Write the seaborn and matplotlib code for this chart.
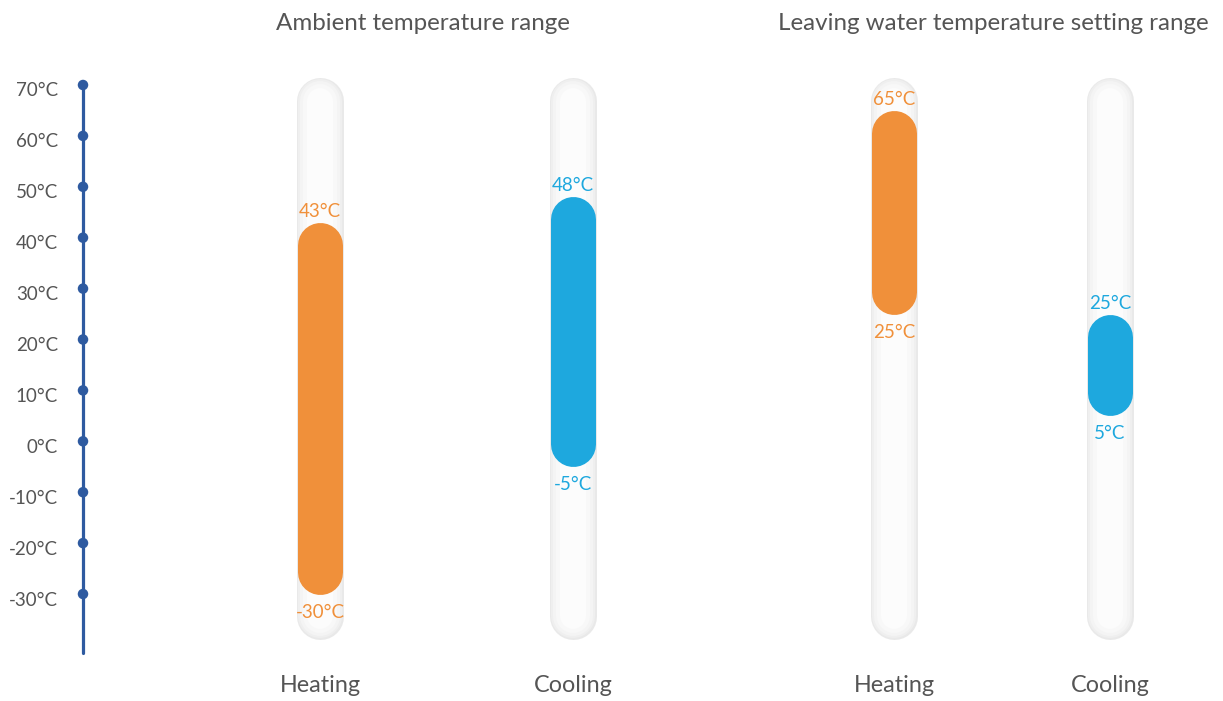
import matplotlib
matplotlib.use("Agg")
import matplotlib.pyplot as plt
import numpy as np
import pandas as pd
import seaborn as sns

# ---- data ----
groups = ["Ambient temperature range", "Leaving water temperature setting range"]
categories = ["Heating", "Cooling", "Heating", "Cooling"]
modes = ["heat", "cool", "heat", "cool"]
low_values = [-30, -5, 25, 5]
high_values = [43, 48, 65, 25]
scale_ticks = [70, 60, 50, 40, 30, 20, 10, 0, -10, -20, -30]

# ---- style ----
sns.set_theme(style="white")
plt.rcParams["font.family"] = ["Lato", "DejaVu Sans"]

W, H, DPI = 1223, 701, 100
colors = {"heat": "#F0903A", "cool": "#1EA8DE"}
text_grey = "#555555"
axis_blue = "#2E5AA0"

# layout (figure pixel units on x, °C on y)
x_cols = [320, 573, 894, 1110]
title_x = [423, 993]
axis_x = 83
bar_px = 45
px_per_deg = 5.09
y_top = 70 + 85 / px_per_deg
y_bottom = y_top - H / px_per_deg
cap = (bar_px / 2) / px_per_deg
tube_top, tube_bottom = 71.4, -39.0

fig = plt.figure(figsize=(W / DPI, H / DPI), dpi=DPI)
ax = fig.add_axes([0, 0, 1, 1])
ax.set_xlim(0, W)
ax.set_ylim(y_bottom, y_top)
ax.axis("off")


def px_to_pt(px):
    return px * 72 / DPI


# temperature scale on the left
ax.plot([axis_x, axis_x], [scale_ticks[0], -41.6], color=axis_blue,
        lw=px_to_pt(3.2), solid_capstyle="round", zorder=2)
dots = pd.DataFrame({"x": [axis_x] * len(scale_ticks), "t": scale_ticks})
sns.scatterplot(data=dots, x="x", y="t", ax=ax, s=px_to_pt(10.5) ** 2,
                color=axis_blue, edgecolor="none", zorder=3, legend=False)
for t in scale_ticks:
    ax.annotate(f"{t}°C", (58, t), xytext=(0, -6), textcoords="offset pixels",
                ha="right", va="center", fontsize=13.5, color=text_grey)

# background tubes with a soft grey rim
tube_layers = [(47, "#e9e9e9"), (44, "#efefef"), (40, "#f4f4f4"),
               (34, "#f8f8f8"), (26, "#fcfcfc")]
for xc in x_cols:
    for width_px, col in tube_layers:
        ax.plot([xc, xc], [tube_top - 4.6, tube_bottom + 4.6],
                color=col, lw=px_to_pt(width_px), solid_capstyle="round",
                zorder=1)

# range bars
bars = pd.DataFrame({
    "x": np.repeat(x_cols, 2),
    "t": np.ravel([[lo + cap, hi - cap] for lo, hi in zip(low_values, high_values)]),
    "unit": np.repeat(range(len(x_cols)), 2),
    "mode": np.repeat(modes, 2),
})
for mode in ["heat", "cool"]:
    sub = bars[bars["mode"] == mode]
    sns.lineplot(data=sub, x="x", y="t", units="unit", estimator=None,
                 sort=False, ax=ax, color=colors[mode], lw=px_to_pt(bar_px),
                 solid_capstyle="round", zorder=4, legend=False)

# value labels
for xc, lo, hi, mode in zip(x_cols, low_values, high_values, modes):
    ax.annotate(f"{hi}°C", (xc, hi), xytext=(0, 11), textcoords="offset pixels",
                ha="center", va="center", fontsize=13.5, color=colors[mode],
                zorder=5)
    ax.annotate(f"{lo}°C", (xc, lo), xytext=(0, -18), textcoords="offset pixels",
                ha="center", va="center", fontsize=13.5, color=colors[mode],
                zorder=5)

# category and group titles
for xc, cat in zip(x_cols, categories):
    ax.text(xc, y_top - 685 / px_per_deg, cat, ha="center", va="center",
            fontsize=16.8, color=text_grey)
for tx, g in zip(title_x, groups):
    ax.text(tx, y_top - 23 / px_per_deg, g, ha="center", va="center",
            fontsize=17.4, color=text_grey)

ax.set_xlabel("")
ax.set_ylabel("")
fig.savefig("out.png", dpi=DPI, facecolor="white")
